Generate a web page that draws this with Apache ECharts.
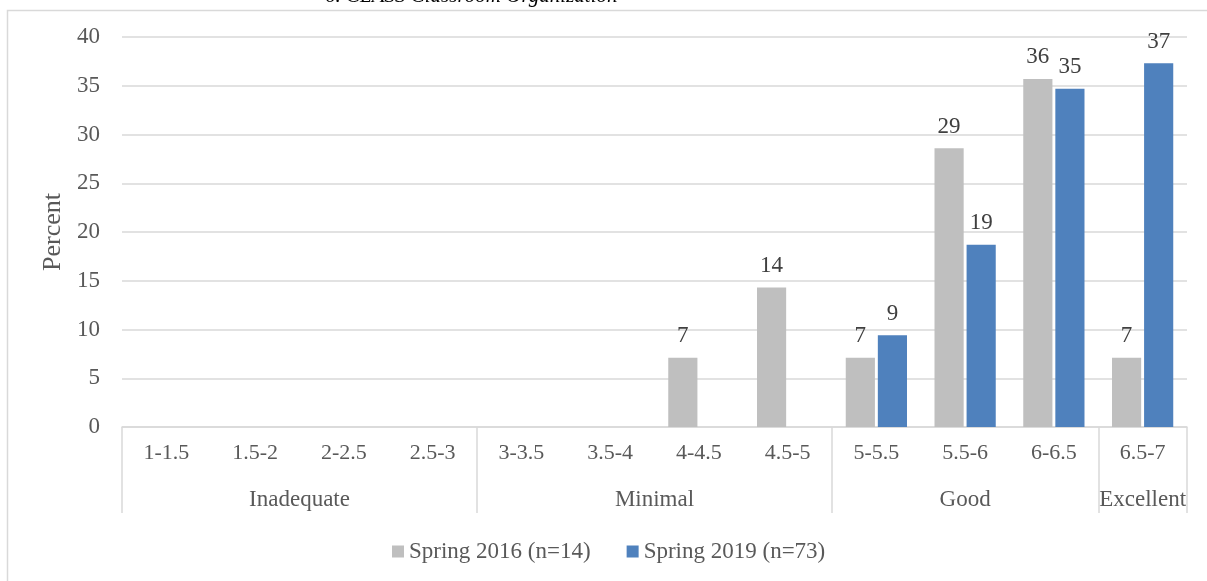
<!DOCTYPE html>
<html>
<head>
<meta charset="utf-8">
<title>CLASS Classroom Organization</title>
<script src="https://cdn.jsdelivr.net/npm/echarts@6/dist/echarts.min.js"></script>
<style>
  html, body { margin: 0; padding: 0; background: #ffffff; }
  #chart { width: 1207px; height: 581px; }
</style>
</head>
<body>
<div id="chart"></div>
<script>
// Score ranges (first axis level) and the rating bands they belong to
const categories = ['1-1.5', '1.5-2', '2-2.5', '2.5-3', '3-3.5', '3.5-4', '4-4.5', '4.5-5', '5-5.5', '5.5-6', '6-6.5', '6.5-7'];
// Rating bands: name and centre position on a half-category scale (0..24)
const bandNames = ['Inadequate', 'Minimal', 'Good', 'Excellent'];
const bandCentres = [4, 12, 19, 23];
// First category index of each band (used for the separator lines)
const bandStarts = [0, 4, 8, 11];

// Percent of classrooms in each score range
const spring2016 = [0, 0, 0, 0, 0, 0, 7.1, 14.3, 7.1, 28.6, 35.7, 7.1];
const spring2019 = [0, 0, 0, 0, 0, 0, 0, 0, 9.4, 18.7, 34.7, 37.3];

const seriesNames = ['Spring 2016 (n=14)', 'Spring 2019 (n=73)'];
const yTicks = { min: 0, max: 40, interval: 5 };

const FONT = '"Liberation Serif", "Times New Roman", serif';
const TEXT = '#595959';
const LINE = '#d9d9d9';

const chart = echarts.init(document.getElementById('chart'), null, { renderer: 'canvas' });

const valueLabel = {
  show: true,
  position: 'top',
  distance: 10,
  fontFamily: FONT,
  fontSize: 23,
  color: '#404040',
  formatter: function (p) { return p.value ? String(Math.round(p.value)) : ''; }
};

chart.setOption({
  animation: false,
  backgroundColor: '#ffffff',
  title: {
    text: '6. CLASS Classroom Organization',
    left: 320,
    top: -19,
    textStyle: { fontFamily: FONT, fontSize: 21, fontWeight: 'normal', fontStyle: 'italic', color: '#000000' }
  },
  graphic: [{
    type: 'rect',
    left: 5,
    top: 8,
    shape: { width: 1230, height: 600 },
    style: { fill: 'none', stroke: LINE, lineWidth: 1.5 },
    silent: true,
    z: -1
  }],
  legend: {
    data: seriesNames,
    left: 387,
    top: 535,
    icon: 'rect',
    itemWidth: 12,
    itemHeight: 12,
    itemGap: 36,
    textStyle: { fontFamily: FONT, fontSize: 23, color: TEXT }
  },
  grid: { left: 122, right: 20, top: 37, bottom: 154, containLabel: false },
  xAxis: [{
    type: 'category',
    data: categories,
    position: 'bottom',
    axisLine: { show: true, lineStyle: { color: LINE, width: 1.5 } },
    axisTick: {
      show: true,
      alignWithLabel: false,
      length: 86,
      interval: function (index) { return bandStarts.indexOf(index) >= 0; },
      lineStyle: { color: LINE, width: 1.5 }
    },
    axisLabel: { interval: 0, margin: 15, fontFamily: FONT, fontSize: 22, color: TEXT }
  }, {
    type: 'value',
    position: 'bottom',
    min: 0,
    max: 24,
    interval: 1,
    axisLine: { show: false },
    axisTick: { show: false },
    splitLine: { show: false },
    axisLabel: {
      margin: 61,
      fontFamily: FONT,
      fontSize: 23,
      color: TEXT,
      showMinLabel: true,
      showMaxLabel: true,
      formatter: function (v) {
        const i = bandCentres.indexOf(v);
        return i >= 0 ? bandNames[i] : '';
      }
    }
  }],
  yAxis: {
    type: 'value',
    min: yTicks.min,
    max: yTicks.max,
    interval: yTicks.interval,
    name: 'Percent',
    nameLocation: 'middle',
    nameGap: 56,
    nameTextStyle: { fontFamily: FONT, fontSize: 26, color: TEXT },
    axisLine: { show: false },
    axisTick: { show: false },
    splitLine: { lineStyle: { color: LINE, width: 1.5 } },
    axisLabel: { margin: 22, fontFamily: FONT, fontSize: 23, color: TEXT }
  },
  series: [{
    name: seriesNames[0],
    type: 'bar',
    xAxisIndex: 0,
    data: spring2016,
    barCategoryGap: '31%',
    barGap: '10%',
    itemStyle: { color: '#bfbfbf' },
    label: valueLabel
  }, {
    name: seriesNames[1],
    type: 'bar',
    xAxisIndex: 0,
    data: spring2019,
    barCategoryGap: '31%',
    barGap: '10%',
    itemStyle: { color: '#4f81bd' },
    label: valueLabel
  }]
});
</script>
</body>
</html>
